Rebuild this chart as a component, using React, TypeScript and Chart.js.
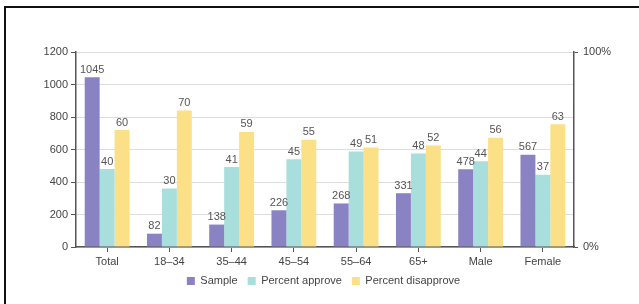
import React, { useEffect, useRef } from "react";
import { Chart, registerables } from "chart.js";

Chart.register(...registerables);

const categories = ["Total", "18–34", "35–44", "45–54", "55–64", "65+", "Male", "Female"];
const sampleValues = [1045, 82, 138, 226, 268, 331, 478, 567];
const approveValues = [40, 30, 41, 45, 49, 48, 44, 37];
const disapproveValues = [60, 70, 59, 55, 51, 52, 56, 63];
const leftTicks = [0, 200, 400, 600, 800, 1000, 1200];
const rightTicks = [0, 100];

const FONT = "'Liberation Sans', Arial, sans-serif";
const TEXT = "#444";

const labelPlugin = {
  id: "barLabels",
  afterDatasetsDraw(chart: any) {
    const ctx = chart.ctx;
    ctx.save();
    ctx.font = `11px ${FONT}`;
    ctx.fillStyle = "#555";
    ctx.textAlign = "center";
    ctx.textBaseline = "bottom";
    chart.data.datasets.forEach((ds: any, di: number) => {
      const meta = chart.getDatasetMeta(di);
      meta.data.forEach((el: any, i: number) => {
        ctx.fillText(String(ds.data[i]), el.x, el.y - 2);
      });
    });
    ctx.restore();
  },
};

export default function App() {
  const ref = useRef<HTMLCanvasElement>(null);
  useEffect(() => {
    if (!ref.current) return;
    const chart = new Chart(ref.current, {
      type: "bar",
      data: {
        labels: categories,
        datasets: [
          { label: "Sample", data: sampleValues, backgroundColor: "#8A83C3", yAxisID: "y" },
          { label: "Percent approve", data: approveValues, backgroundColor: "#A8DEDC", yAxisID: "y1" },
          { label: "Percent disapprove", data: disapproveValues, backgroundColor: "#FBE087", yAxisID: "y1" },
        ],
      },
      plugins: [labelPlugin],
      options: {
        responsive: false,
        animation: false,
        devicePixelRatio: 1,
        layout: { padding: { left: 8, right: 0, top: 52, bottom: 7.5 } },
        datasets: { bar: { categoryPercentage: 0.72, barPercentage: 1 } },
        plugins: {
          tooltip: { enabled: false },
          legend: {
            position: "bottom",
            labels: {
              boxWidth: 8,
              boxHeight: 8,
              padding: 10,
              color: TEXT,
              font: { family: FONT, size: 11 },
            },
          },
        },
        scales: {
          x: {
            afterFit: (s: any) => { s.height = 18.5; },
            grid: { drawOnChartArea: false, offset: false, tickLength: 5, tickColor: "#555" },
            border: { color: "#555", width: 1.5 },
            ticks: { color: TEXT, font: { family: FONT, size: 11 }, padding: 3, maxRotation: 0 },
          },
          y: {
            position: "left",
            min: 0,
            max: 1200,
            afterFit: (s: any) => { s.width = 68; },
            afterBuildTicks: (s: any) => { s.ticks = leftTicks.map((v) => ({ value: v })); },
            grid: { color: "#dddddd", tickLength: 5, tickColor: "#555" },
            border: { color: "#555", width: 1.5 },
            ticks: {
              color: TEXT,
              font: { family: FONT, size: 11 },
              padding: 3,
              callback: (v: any) => String(v),
            },
          },
          y1: {
            position: "right",
            min: 0,
            max: 100,
            afterFit: (s: any) => { s.width = 65; },
            afterBuildTicks: (s: any) => { s.ticks = rightTicks.map((v) => ({ value: v })); },
            grid: { drawOnChartArea: false, tickLength: 4, tickColor: "#555" },
            border: { color: "#555", width: 1.5 },
            ticks: {
              color: TEXT,
              font: { family: FONT, size: 11 },
              padding: 5,
              callback: (v: any) => `${v}%`,
            },
          },
        },
      } as any,
    });
    return () => chart.destroy();
  }, []);

  return (
    <div style={{ position: "fixed", left: 0, top: 0, width: 639, height: 304, background: "#fff", overflow: "hidden" }}>
      <div
        style={{
          position: "absolute",
          left: 4,
          top: 6,
          width: 700,
          height: 400,
          borderTop: "2px solid #111",
          borderLeft: "2px solid #111",
        }}
      />
      <canvas ref={ref} width={639} height={304} style={{ position: "absolute", left: 0, top: 0, width: 639, height: 304 }} />
    </div>
  );
}
